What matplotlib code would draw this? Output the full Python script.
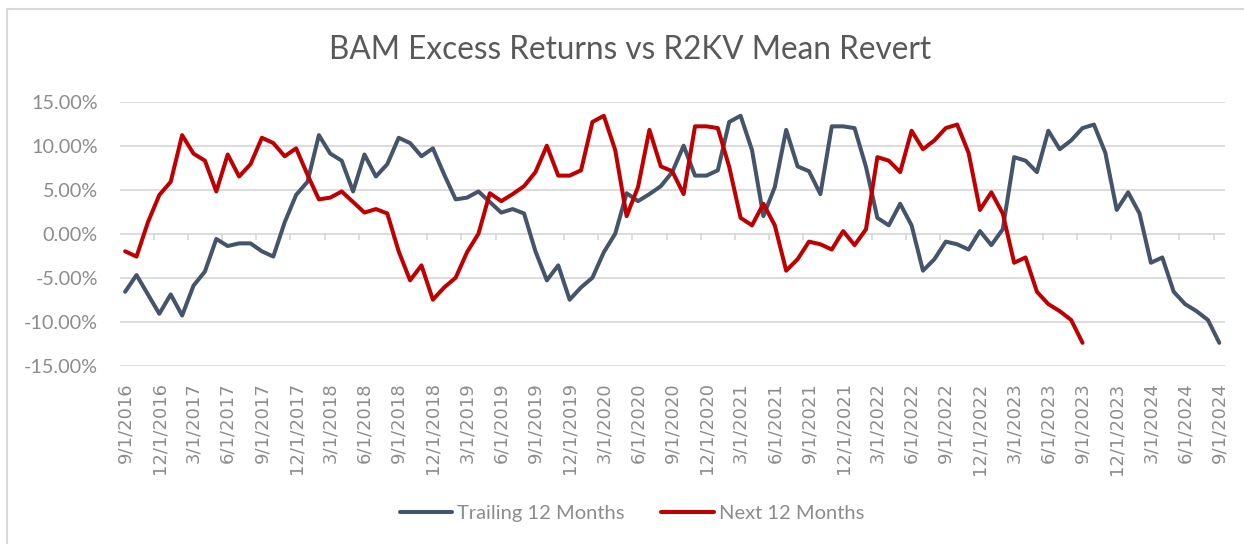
import matplotlib
matplotlib.use("Agg")
import matplotlib.pyplot as plt
import numpy as np
import pandas as pd
from matplotlib.patches import Rectangle

plt.rcParams['font.family'] = ['Lato', 'DejaVu Sans']

# ---- data ----
dates = pd.date_range("2016-09-01", "2024-09-01", freq="MS")
date_labels = [f"{d.month}/{d.day}/{d.year}" for d in dates]

trailing_12m = [
    -6.6, -4.7, -6.9, -9.1, -6.9, -9.3, -5.9, -4.3, -0.6, -1.4, -1.1, -1.1,
    -2.0, -2.6, 1.3, 4.4, 5.9, 11.2, 9.1, 8.3, 4.8, 9.0, 6.5, 7.9,
    10.9, 10.3, 8.8, 9.7, 6.7, 3.9, 4.1, 4.8, 3.6, 2.4, 2.8, 2.3,
    -2.0, -5.3, -3.6, -7.5, -6.1, -5.0, -2.1, 0.0, 4.6, 3.7, 4.5, 5.4,
    7.0, 10.0, 6.6, 6.6, 7.2, 12.7, 13.4, 9.5, 2.0, 5.3, 11.8, 7.65,
    7.1, 4.5, 12.2, 12.2, 12.0, 7.6, 1.8, 0.95, 3.4, 0.95, -4.2, -2.9,
    -0.9, -1.2, -1.8, 0.3, -1.3, 0.5, 8.7, 8.3, 7.0, 11.7, 9.6, 10.6,
    12.0, 12.4, 9.2, 2.7, 4.7, 2.3, -3.3, -2.7, -6.6, -8.0, -8.8, -9.8,
    -12.4,
]

next_12m = [
    -2.0, -2.6, 1.3, 4.4, 5.9, 11.2, 9.1, 8.3, 4.8, 9.0, 6.5, 7.9,
    10.9, 10.3, 8.8, 9.7, 6.7, 3.9, 4.1, 4.8, 3.6, 2.4, 2.8, 2.3,
    -2.0, -5.3, -3.6, -7.5, -6.1, -5.0, -2.1, 0.0, 4.6, 3.7, 4.5, 5.4,
    7.0, 10.0, 6.6, 6.6, 7.2, 12.7, 13.4, 9.5, 2.0, 5.3, 11.8, 7.65,
    7.1, 4.5, 12.2, 12.2, 12.0, 7.6, 1.8, 0.95, 3.4, 0.95, -4.2, -2.9,
    -0.9, -1.2, -1.8, 0.3, -1.3, 0.5, 8.7, 8.3, 7.0, 11.7, 9.6, 10.6,
    12.0, 12.4, 9.2, 2.7, 4.7, 2.3, -3.3, -2.7, -6.6, -8.0, -8.8, -9.8,
    -12.4,
]

y_ticks = [-15, -10, -5, 0, 5, 10, 15]
title = "BAM Excess Returns vs R2KV Mean Revert"
series_names = ["Trailing 12 Months", "Next 12 Months"]

# ---- figure ----
W, H = 1244, 544
fig = plt.figure(figsize=(W / 100, H / 100), dpi=100)
fig.patch.set_facecolor("white")

# chart-area border (only top/left visible in the crop)
fig.patches.append(Rectangle((7 / W, -0.1), 1.2, 1 - 9 / H + 0.1,
                             transform=fig.transFigure, fill=False,
                             edgecolor="#d9d9d9", linewidth=1.5))

left, right = 120 / W, 1225 / W
top, bottom = 1 - 101.7 / H, 1 - 365.7 / H
ax = fig.add_axes([left, bottom, right - left, top - bottom])

x = np.arange(len(trailing_12m))
x_next = np.arange(len(next_12m))

grid_color = "#d9d9d9"
for yt in y_ticks:
    ax.axhline(yt, color=grid_color, linewidth=1.3, zorder=0)
# small category tick marks on the 0% axis
ax.vlines(np.arange(-0.5, len(x), 3), -0.75, 0, color=grid_color,
          linewidth=1.3, zorder=0)

ax.plot(x, trailing_12m, color="#44546A", linewidth=2.9,
        solid_joinstyle="round", solid_capstyle="round",
        label=series_names[0], zorder=3)
ax.plot(x_next, next_12m, color="#C00000", linewidth=2.9,
        solid_joinstyle="round", solid_capstyle="round",
        label=series_names[1], zorder=4)

ax.set_xlim(-0.45, len(x) - 0.5)
ax.set_ylim(-15, 15)
for s in ax.spines.values():
    s.set_visible(False)

tick_color = "#8c8c8c"
ax.set_yticks(y_ticks)
ax.set_yticklabels([f"{v:.2f}%" for v in y_ticks])
ax.tick_params(axis="y", length=0, pad=16, labelsize=14.3, labelcolor=tick_color)

ax.set_xticks(x[::3])
ax.set_xticklabels(date_labels[::3], rotation=90, va="top", ha="center",
                   family="DejaVu Sans", fontsize=13)
ax.tick_params(axis="x", length=0, pad=12, labelcolor=tick_color)

fig.text(630 / W, 1 - 50 / H, title, ha="center", va="center",
         fontsize=22.7, color="#595959")

fig.legend(loc="center", bbox_to_anchor=(632 / W, 1 - 513 / H), ncol=2,
           frameon=False, fontsize=14.5, labelcolor=tick_color,
           handlelength=2.6, handletextpad=0.25, columnspacing=1.8)

fig.savefig("out.png", dpi=100, facecolor="white")
